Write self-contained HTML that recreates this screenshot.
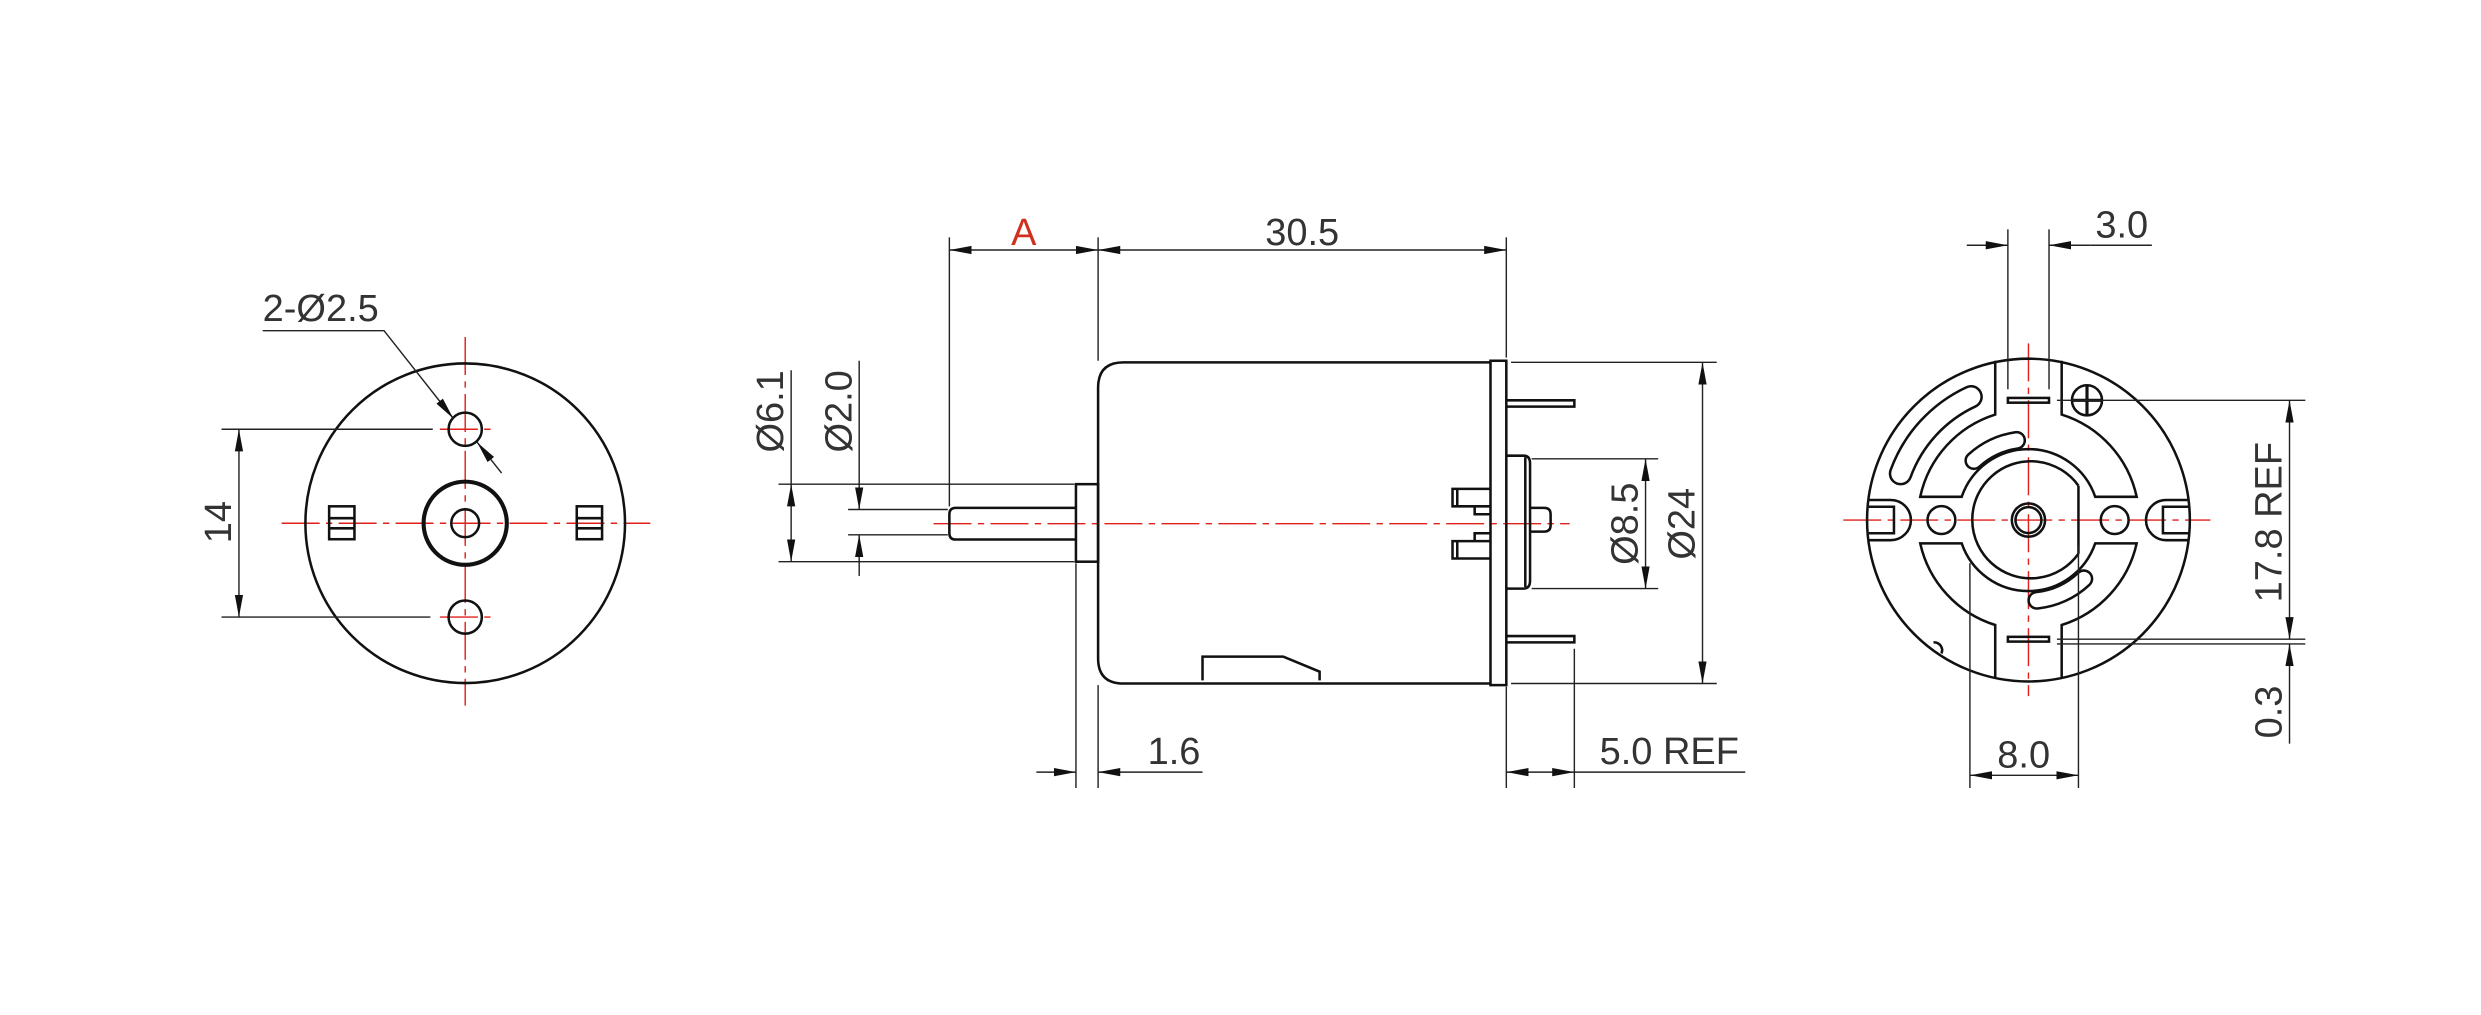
<!DOCTYPE html>
<html><head><meta charset="utf-8"><style>
html,body{margin:0;padding:0;background:#fff;}
svg{display:block}
text{font-family:"Liberation Sans",sans-serif;fill:#333;font-size:24px;}
</style></head><body>
<svg width="2481" height="1015" viewBox="0 0 1568 641.5" xmlns="http://www.w3.org/2000/svg">
<defs>
<marker id="a" viewBox="0 0 14 6" refX="14" refY="3" markerWidth="14" markerHeight="6" markerUnits="userSpaceOnUse" orient="auto-start-reverse"><path d="M0,0.4 L14,3 L0,5.6 z" fill="#111"/></marker>
</defs>
<g fill="none" stroke="#e0201a" stroke-width="0.9" stroke-dasharray="24 4 4 4">
<line x1="178" y1="330.7" x2="411" y2="330.7"/>
<line x1="294" y1="213" x2="294" y2="446"/>
<line x1="278" y1="271.3" x2="310" y2="271.3"/>
<line x1="278" y1="390" x2="310" y2="390"/>
<line x1="590" y1="331" x2="992" y2="331"/>
<line x1="1165" y1="328.7" x2="1397" y2="328.7"/>
<line x1="1282" y1="217" x2="1282" y2="440"/>
</g>
<g fill="none" stroke="#111" stroke-width="1.6">
<circle cx="294" cy="330.7" r="101"/>
<circle cx="294" cy="271.3" r="10.5"/>
<circle cx="294" cy="390" r="10.5"/>
<circle cx="294" cy="330.7" r="26.3" stroke-width="2.6"/>
<circle cx="294" cy="330.7" r="8.8"/>
<rect x="208" y="320" width="16" height="20.8"/>
<line x1="208" y1="327.5" x2="224" y2="327.5"/><line x1="208" y1="333.9" x2="224" y2="333.9"/>
<rect x="364.5" y="320" width="16" height="20.8"/>
<line x1="364.5" y1="327.5" x2="380.5" y2="327.5"/><line x1="364.5" y1="333.9" x2="380.5" y2="333.9"/>

<path d="M942,229 L710,229 Q694,229 694,245 L694,416 Q694,432 710,432 L942,432"/>
<rect x="942" y="228" width="10" height="205"/>
<rect x="680" y="306" width="14" height="49"/>
<path d="M680,321 L604,321 Q600,321 600,325 L600,337 Q600,341 604,341 L680,341"/>
<path d="M952,288 L963,288 Q967,288 967,293 L967,367 Q967,372 963,372 L952,372"/>
<line x1="964" y1="289" x2="964" y2="371"/>
<path d="M967,321 L976,321 Q980,321 980,325 L980,332 Q980,336 976,336 L967,336"/>
<path d="M942,309 L918,309 L918,320 L942,320 M921,309 L921,320 M942,320 L932,320 L932,325 L942,325"/>
<path d="M942,353 L918,353 L918,342 L942,342 M921,353 L921,342 M942,342 L932,342 L932,337 L942,337"/>
<path d="M952,253 L995,253 L995,257 L952,257"/>
<path d="M952,402 L995,402 L995,406 L952,406"/>
<path d="M760,430 L760,415 L811,415 L834,424.5 L834,430"/>

<circle cx="1282" cy="328.7" r="102"/>
<path d="M1261,228 L1261,262 A70,70 0 0 0 1213.6,314 L1239.8,314 A44.6,44.6 0 0 1 1324.2,314 L1350.4,314 A70,70 0 0 0 1303,262 L1303,228"/>
<path d="M1261,429 L1261,395 A70,70 0 0 1 1213.6,343.4 L1239.8,343.4 A44.6,44.6 0 0 0 1324.2,343.4 L1350.4,343.4 A70,70 0 0 1 1303,395 L1303,429"/>
<path d="M1313.6,307 A37,37 0 1 0 1313.6,350"/>
<line x1="1313.6" y1="307" x2="1313.6" y2="350"/>
<circle cx="1282" cy="328.7" r="10.5"/>
<circle cx="1282" cy="328.7" r="8.2"/>
<circle cx="1227" cy="328.7" r="8.8"/>
<circle cx="1336.5" cy="328.7" r="8.8"/>
<path d="M1181,316 L1195,316 A12.7,12.7 0 0 1 1195,341.4 L1181,341.4"/>
<path d="M1181,320.3 L1197,320.3 L1197,337 L1181,337"/>
<path d="M1383,316 L1369,316 A12.7,12.7 0 0 0 1369,341.4 L1383,341.4"/>
<path d="M1383,320.3 L1367,320.3 L1367,337 L1383,337"/>
<rect x="1269" y="251.5" width="26" height="3"/>
<rect x="1269" y="402.5" width="26" height="3"/>
<circle cx="1319" cy="253" r="9.5"/>
<line x1="1309.5" y1="253" x2="1328.5" y2="253" stroke-width="2"/><line x1="1319" y1="243.5" x2="1319" y2="262.5" stroke-width="2"/>
<path d="M1222,406 A5,5 0 0 1 1227,413"/>
</g>
<g fill="none" stroke-linecap="round">
<path d="M1201.2,299.3 A86,86 0 0 1 1245.7,250.8" stroke="#111" stroke-width="15"/>
<path d="M1201.2,299.3 A86,86 0 0 1 1245.7,250.8" stroke="#fff" stroke-width="11.8"/>
<path d="M1247.5,291.1 A51,51 0 0 1 1274.5,278.3" stroke="#111" stroke-width="12"/>
<path d="M1247.5,291.1 A51,51 0 0 1 1274.5,278.3" stroke="#fff" stroke-width="8.8"/>
<path d="M1287.3,379.4 A51,51 0 0 0 1317,365.8" stroke="#111" stroke-width="12"/>
<path d="M1287.3,379.4 A51,51 0 0 0 1317,365.8" stroke="#fff" stroke-width="8.8"/>
</g>

<g fill="none" stroke="#222" stroke-width="0.9">
<line x1="140" y1="271.3" x2="273.5" y2="271.3"/>
<line x1="140" y1="390" x2="272" y2="390"/>
<line x1="151" y1="271.3" x2="151" y2="390" marker-start="url(#a)" marker-end="url(#a)"/>
<polyline points="166,209 242.7,209 286.5,264.5" marker-end="url(#a)"/>
<line x1="317" y1="299" x2="301.5" y2="279.5" marker-end="url(#a)"/>

<line x1="600" y1="150" x2="600" y2="320"/>
<line x1="694" y1="150" x2="694" y2="228"/>
<line x1="952" y1="150" x2="952" y2="226"/>
<line x1="600" y1="158" x2="694" y2="158" marker-start="url(#a)" marker-end="url(#a)"/>
<line x1="694" y1="158" x2="952" y2="158" marker-start="url(#a)" marker-end="url(#a)"/>

<line x1="492" y1="306" x2="679" y2="306"/>
<line x1="492" y1="355" x2="679" y2="355"/>
<line x1="536" y1="322" x2="599" y2="322"/>
<line x1="536" y1="338" x2="599" y2="338"/>
<line x1="500" y1="234" x2="500" y2="306"/>
<line x1="500" y1="306" x2="500" y2="355" marker-start="url(#a)" marker-end="url(#a)"/>
<line x1="543" y1="228" x2="543" y2="322" marker-end="url(#a)"/>
<line x1="543" y1="364" x2="543" y2="338" marker-end="url(#a)"/>

<line x1="968" y1="290" x2="1048" y2="290"/>
<line x1="968" y1="372" x2="1048" y2="372"/>
<line x1="1040" y1="290" x2="1040" y2="372" marker-start="url(#a)" marker-end="url(#a)"/>
<line x1="955" y1="229" x2="1085" y2="229"/>
<line x1="955" y1="432" x2="1085" y2="432"/>
<line x1="1076" y1="229" x2="1076" y2="432" marker-start="url(#a)" marker-end="url(#a)"/>

<line x1="680" y1="356" x2="680" y2="498"/>
<line x1="694" y1="433" x2="694" y2="498"/>
<line x1="952" y1="434" x2="952" y2="498"/>
<line x1="995" y1="410" x2="995" y2="498"/>
<line x1="655" y1="488" x2="680" y2="488" marker-end="url(#a)"/>
<line x1="760" y1="488" x2="694" y2="488" marker-end="url(#a)"/>
<line x1="952" y1="488" x2="995" y2="488" marker-start="url(#a)" marker-end="url(#a)"/>
<line x1="995" y1="488" x2="1103" y2="488"/>

<line x1="1269" y1="145" x2="1269" y2="246"/>
<line x1="1295" y1="145" x2="1295" y2="246"/>
<line x1="1243" y1="155" x2="1269" y2="155" marker-end="url(#a)"/>
<line x1="1321" y1="155" x2="1295" y2="155" marker-end="url(#a)"/>
<line x1="1321" y1="155" x2="1360" y2="155"/>
<line x1="1300" y1="253" x2="1457" y2="253"/>
<line x1="1300" y1="404" x2="1457" y2="404"/>
<line x1="1300" y1="407" x2="1457" y2="407"/>
<line x1="1447" y1="253" x2="1447" y2="404" marker-start="url(#a)" marker-end="url(#a)"/>
<line x1="1447" y1="470" x2="1447" y2="407" marker-end="url(#a)"/>
<line x1="1245" y1="356" x2="1245" y2="498"/>
<line x1="1313.6" y1="345" x2="1313.6" y2="498"/>
<line x1="1245" y1="490" x2="1313.6" y2="490" marker-start="url(#a)" marker-end="url(#a)"/>
</g>
<text x="166" y="203">2-Ø2.5</text>
<text transform="translate(146,330) rotate(-90)" text-anchor="middle">14</text>
<text x="647" y="155" text-anchor="middle" style="fill:#d0301e">A</text>
<text x="823" y="155" text-anchor="middle">30.5</text>
<text transform="translate(495,260) rotate(-90)" text-anchor="middle">Ø6.1</text>
<text transform="translate(538,260) rotate(-90)" text-anchor="middle">Ø2.0</text>
<text transform="translate(1035,331) rotate(-90)" text-anchor="middle">Ø8.5</text>
<text transform="translate(1071,331) rotate(-90)" text-anchor="middle">Ø24</text>
<text x="742" y="483" text-anchor="middle">1.6</text>
<text x="1055" y="483" text-anchor="middle">5.0 REF</text>
<text x="1341" y="150" text-anchor="middle">3.0</text>
<text transform="translate(1442,330) rotate(-90)" text-anchor="middle">17.8 REF</text>
<text transform="translate(1442,450) rotate(-90)" text-anchor="middle">0.3</text>
<text x="1279" y="485" text-anchor="middle">8.0</text>
</svg>
</body></html>
